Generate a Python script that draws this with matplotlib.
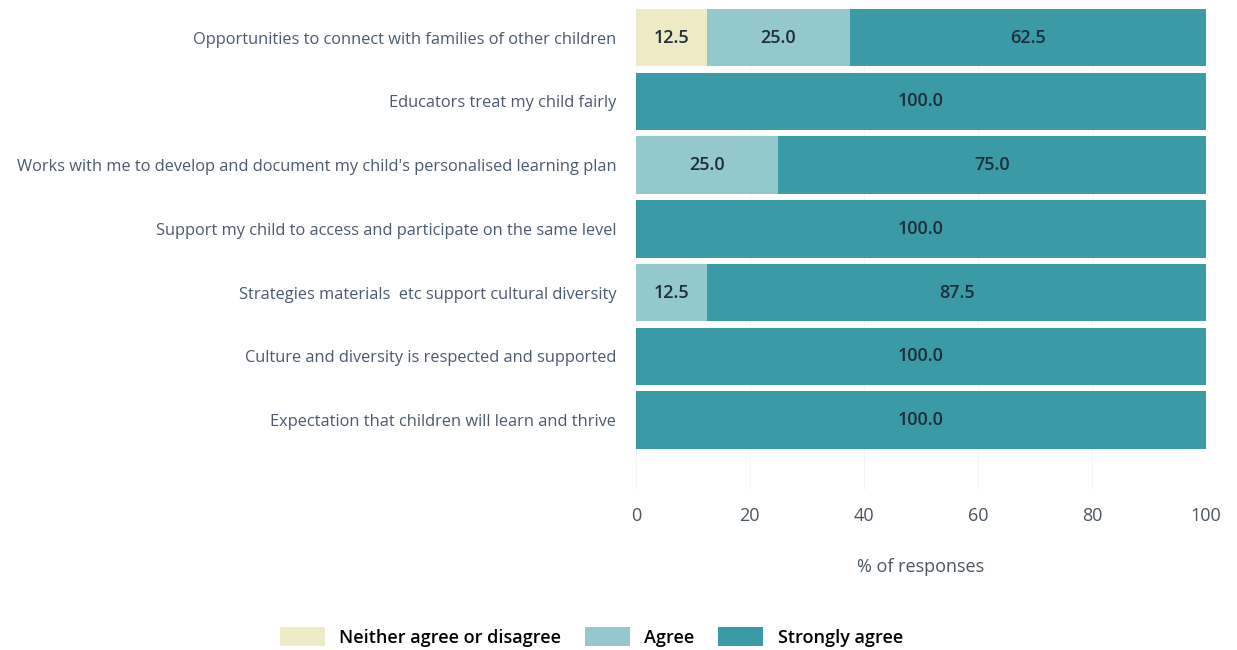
import numpy as np
import matplotlib
matplotlib.use("Agg")
import matplotlib.pyplot as plt

plt.rcParams['font.family'] = ['Open Sans', 'DejaVu Sans']

# Data
categories = [
    "Opportunities to connect with families of other children",
    "Educators treat my child fairly",
    "Works with me to develop and document my child's personalised learning plan",
    "Support my child to access and participate on the same level",
    "Strategies materials  etc support cultural diversity",
    "Culture and diversity is respected and supported",
    "Expectation that children will learn and thrive",
]
neither = [12.5, 0, 0, 0, 0, 0, 0]
agree = [25.0, 0, 25.0, 0, 12.5, 0, 0]
strongly = [62.5, 100.0, 75.0, 100.0, 87.5, 100.0, 100.0]
series_names = ["Neither agree or disagree", "Agree", "Strongly agree"]
colors = ["#efeac6", "#93c9cc", "#3a9aa6"]

fig = plt.figure(figsize=(12.37, 6.5), dpi=100)
ax = fig.add_axes([0.514, 0.246, 0.461, 0.742])

y = np.arange(len(categories))
left = np.zeros(len(categories))
for vals, name, col in zip([neither, agree, strongly], series_names, colors):
    vals = np.array(vals)
    ax.barh(y, vals, left=left, height=0.9, color=col, label=name, zorder=2)
    for yi, (l, v) in enumerate(zip(left, vals)):
        if v > 0:
            ax.text(l + v / 2, yi, f"{v:.1f}", ha='center', va='center',
                    fontsize=13, fontweight='semibold', color='#1f2e3a', zorder=3)
    left = left + vals

ax.set_xlim(0, 100)
ax.set_ylim(7.1, -0.47)
ax.set_yticks(y)
ax.set_yticklabels(categories, fontsize=11.8, color='#4a5a6e')
ax.set_xticks([0, 20, 40, 60, 80, 100])
ax.tick_params(axis='x', labelsize=13, colors='#4a5560', length=0, pad=12)
ax.tick_params(axis='y', length=0, pad=14)
ax.xaxis.grid(True, color='#f4f4f4', linewidth=0.7, zorder=0)
for s in ax.spines.values():
    s.set_visible(False)
ax.set_xlabel("% of responses", fontsize=13, color='#4a5560', labelpad=24)

fig.legend(loc='center', bbox_to_anchor=(0.478, 0.02), ncol=3, frameon=False,
           handlelength=2.5, handleheight=1.2, columnspacing=1.3,
           prop={'weight': 'semibold', 'size': 13})

fig.savefig("out.png", dpi=100, facecolor='white')
